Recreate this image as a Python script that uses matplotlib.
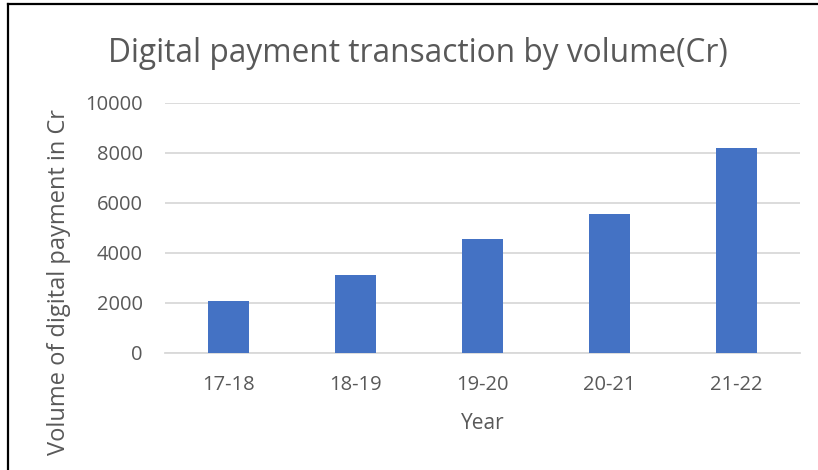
import matplotlib.pyplot as plt
from matplotlib.lines import Line2D

years = ['17-18', '18-19', '19-20', '20-21', '21-22']
volume = [2071, 3134, 4572, 5554, 8193]
yticks = [0, 2000, 4000, 6000, 8000, 10000]

plt.rcParams['font.family'] = ['Open Sans', 'DejaVu Sans']
grey = '#595959'

fig = plt.figure(figsize=(8.18, 4.70), dpi=100)
ax = fig.add_axes([165/818, 1 - 353/470, 635/818, 250/470])

ax.bar(range(len(years)), volume, width=0.315, color='#4472c4', zorder=3)
ax.set_xlim(-0.5, len(years) - 0.5)
ax.set_ylim(0, 10000)
ax.set_yticks(yticks)
ax.set_xticks(range(len(years)))
ax.set_xticklabels(years)
ax.yaxis.grid(True, color='#d9d9d9', linewidth=1.3, zorder=0)
for s in ['top', 'right', 'left']:
    ax.spines[s].set_visible(False)
ax.spines['bottom'].set_color('#d9d9d9')
ax.spines['bottom'].set_linewidth(1.3)
ax.tick_params(length=0, labelsize=14.5, colors=grey)
ax.tick_params(axis='y', pad=16)
ax.tick_params(axis='x', pad=16)

ax.set_xlabel('Year', fontsize=15, color=grey, labelpad=13)
ax.set_ylabel('Volume of digital payment in Cr', fontsize=17, color=grey)
ax.yaxis.set_label_coords(-0.148, 0.284)
fig.text(418/818, 1 - 62/470, 'Digital payment transaction by volume(Cr)',
         fontsize=22.8, color=grey, ha='center', va='baseline')

# frame lines like the original screenshot
fig.add_artist(Line2D([8/818, 8/818], [0, 1 - 4/470], color='black', linewidth=1.6))
fig.add_artist(Line2D([8/818, 1], [1 - 4/470, 1 - 4/470], color='black', linewidth=1.6))

fig.savefig('out.png', dpi=100)
